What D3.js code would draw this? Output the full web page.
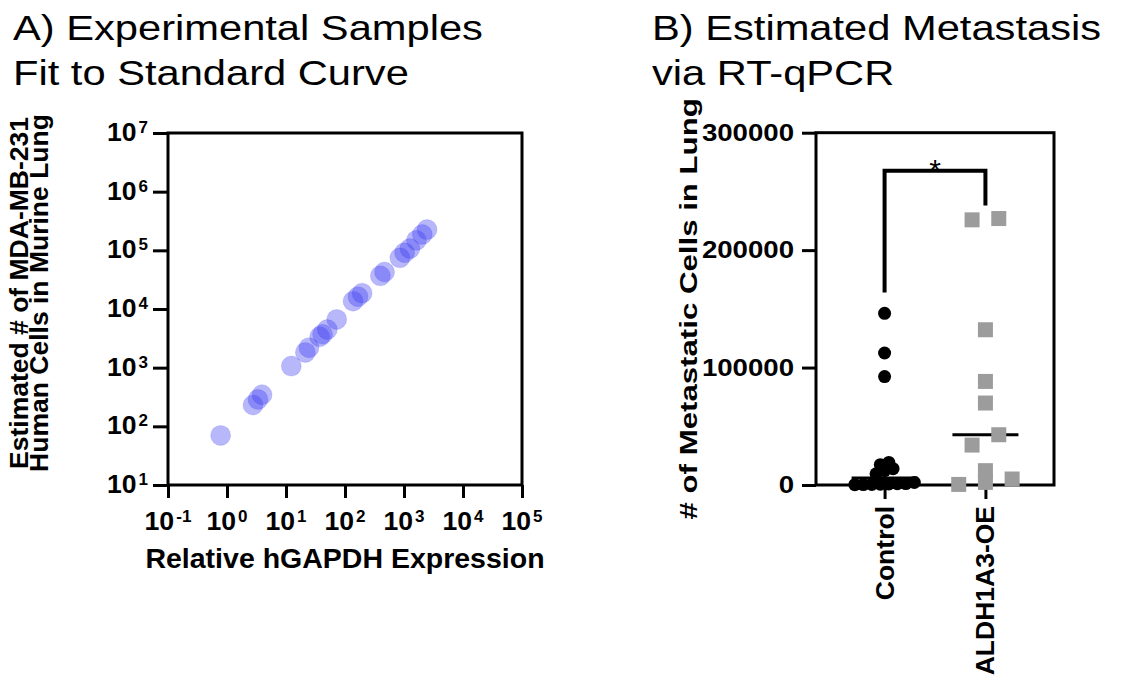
<!DOCTYPE html>
<html>
<head>
<meta charset="utf-8">
<script src="https://cdn.jsdelivr.net/npm/d3@7"></script>
<style>
  body { margin: 0; background: #fff; }
  text { font-family: "Liberation Sans", Arial, sans-serif; fill: #000; }
</style>
</head>
<body>
<svg id="chart"></svg>
<script>
// Panel A: relative hGAPDH expression vs estimated cell count
const expression = [0.78, 2.76, 3.35, 3.92, 12.3, 21.3, 24.5, 37.2, 41.7, 50.1, 72.4,
  137, 166, 195, 398, 468, 851, 1023, 1259, 1622, 2042, 2455];
const estimatedCells = [70, 231, 288, 346, 1064, 1820, 2190, 3365, 3715, 4467, 6637,
  13610, 16220, 18620, 36730, 42660, 74470, 91200, 107200, 147900, 186200, 225900];
const xExponents = [-1, 0, 1, 2, 3, 4, 5];
const yExponents = [1, 2, 3, 4, 5, 6, 7];

// Panel B: metastatic cells per group
const groups = ["Control", "ALDH1A3-OE"];
const controlCells = [146200, 112400, 92300, 19200, 17300, 13900, 12200, 9600,
  2200, 1200, 1100, 900, 700, 500, 400, 300];
const aldhCells = [226900, 225800, 132200, 88200, 69800, 42800, 34000, 12200, 5100, 2200, 500];
const yTicksB = [0, 100000, 200000, 300000];
const bracketLevels = [164000, 267500, 238000]; // left leg foot, bar, right leg foot

const width = 1138;
const height = 679;

const svg = d3.select("#chart").attr("width", width).attr("height", height);
svg.append("rect").attr("width", width).attr("height", height).attr("fill", "#fff");

// widen glyphs along the text direction to the proportions of the reference
const stretch = (sel, k) => sel.each(function () {
  const len = this.getComputedTextLength();
  d3.select(this).attr("textLength", len * k).attr("lengthAdjust", "spacingAndGlyphs");
});

const styleAxis = (g) => {
  g.select(".domain").remove();
  g.selectAll(".tick line").attr("stroke", "#000").attr("stroke-width", 3);
};

const power = (sel) => sel.each(function (e) {
  const t = d3.select(this);
  t.append("tspan").text("10");
  t.append("tspan").attr("dx", 2).attr("dy", -8).attr("font-size", 16).text(e);
});

// titles
const titles = [
  { x: 13, lines: ["A) Experimental Samples", "Fit to Standard Curve"] },
  { x: 652, lines: ["B) Estimated Metastasis", "via RT-qPCR"] }
];
titles.forEach((t) => {
  svg.selectAll(null)
    .data(t.lines)
    .enter()
    .append("text")
    .attr("x", t.x)
    .attr("y", (d, i) => 40 + i * 45)
    .attr("font-size", 35)
    .text((d) => d)
    .call(stretch, 1.19);
});

// ---------- Panel A ----------
const a = { left: 168, right: 522, top: 133, bottom: 485 };
const x = d3.scaleLog().domain([0.1, 1e5]).range([a.left, a.right]);
const y = d3.scaleLog().domain([10, 1e7]).range([a.bottom, a.top]);

const gA = svg.append("g");

gA.append("g")
  .attr("transform", `translate(0,${a.bottom})`)
  .call(d3.axisBottom(x).tickValues(xExponents.map((e) => 10 ** e)).tickSize(13).tickSizeOuter(0).tickFormat(""))
  .call(styleAxis);

gA.append("g")
  .attr("transform", `translate(${a.left},0)`)
  .call(d3.axisLeft(y).tickValues(yExponents.map((e) => 10 ** e)).tickSize(15).tickSizeOuter(0).tickFormat(""))
  .call(styleAxis);

gA.append("rect")
  .attr("x", a.left)
  .attr("y", a.top)
  .attr("width", a.right - a.left)
  .attr("height", a.bottom - a.top)
  .attr("fill", "none")
  .attr("stroke", "#000")
  .attr("stroke-width", 3);

gA.selectAll(".xlab")
  .data(xExponents)
  .enter()
  .append("text")
  .attr("x", (e) => x(10 ** e))
  .attr("y", 530)
  .attr("text-anchor", "middle")
  .attr("font-size", 25)
  .attr("font-weight", "bold")
  .call(power)
  .call(stretch, 1.12);

gA.selectAll(".ylab")
  .data(yExponents)
  .enter()
  .append("text")
  .attr("x", 148)
  .attr("y", (e) => y(10 ** e) + 8)
  .attr("text-anchor", "end")
  .attr("font-size", 25)
  .attr("font-weight", "bold")
  .call(power)
  .call(stretch, 1.12);

gA.append("text")
  .attr("x", (a.left + a.right) / 2)
  .attr("y", 568)
  .attr("text-anchor", "middle")
  .attr("font-size", 28.5)
  .attr("font-weight", "bold")
  .text("Relative hGAPDH Expression");

gA.selectAll(".ytitle")
  .data(["Estimated # of MDA-MB-231", "Human Cells in Murine Lung"])
  .enter()
  .append("text")
  .attr("transform", (d, i) => `translate(${28 + i * 20},293) rotate(-90)`)
  .attr("text-anchor", "middle")
  .attr("font-size", 26.5)
  .attr("font-weight", "bold")
  .text((d) => d);

gA.selectAll("circle")
  .data(expression.map((v, i) => [v, estimatedCells[i]]))
  .enter()
  .append("circle")
  .attr("cx", (d) => x(d[0]))
  .attr("cy", (d) => y(d[1]))
  .attr("r", 10)
  .attr("fill", "#3b3bf2")
  .attr("fill-opacity", 0.37)
  .attr("stroke", "#3b3bf2")
  .attr("stroke-opacity", 0.15);

// ---------- Panel B ----------
const b = { left: 816, right: 1054, top: 132.7, bottom: 485 };
const xB = d3.scalePoint().domain(groups).range([b.left, b.right]).padding(0.68);
const yB = d3.scaleLinear().domain([0, 300000]).range([b.bottom, b.top]);

const gB = svg.append("g");

gB.append("g")
  .attr("transform", `translate(${b.left},0)`)
  .call(d3.axisLeft(yB).tickValues(yTicksB).tickSize(14).tickSizeOuter(0).tickPadding(8).tickFormat(d3.format("d")))
  .call(styleAxis)
  .call((g) => g.selectAll("text")
    .attr("font-size", 24)
    .attr("font-weight", "bold")
    .attr("font-family", "Liberation Sans, Arial, sans-serif")
    .attr("fill", "#000")
    .call(stretch, 1.15));

gB.append("g")
  .attr("transform", `translate(0,${b.bottom})`)
  .call(d3.axisBottom(xB).tickSize(14).tickSizeOuter(0).tickFormat(""))
  .call(styleAxis);

gB.append("rect")
  .attr("x", b.left)
  .attr("y", b.top)
  .attr("width", b.right - b.left)
  .attr("height", b.bottom - b.top)
  .attr("fill", "none")
  .attr("stroke", "#000")
  .attr("stroke-width", 3);

gB.selectAll(".cat")
  .data(groups)
  .enter()
  .append("text")
  .attr("transform", (d) => `translate(${xB(d) + 9},506) rotate(-90)`)
  .attr("text-anchor", "end")
  .attr("font-size", 26.5)
  .attr("font-weight", "bold")
  .text((d) => d);

gB.append("text")
  .attr("transform", `translate(697,${(b.top + b.bottom) / 2}) rotate(-90)`)
  .attr("text-anchor", "middle")
  .attr("font-size", 24)
  .attr("font-weight", "bold")
  .text("# of Metastatic Cells in Lung")
  .call(stretch, 1.3);

// rows of near-equal values spread side by side, like a column scatter
const swarm = (values, step, gap) => {
  const sorted = values.slice().sort((p, q) => p - q);
  const rows = [];
  sorted.forEach((v) => {
    const row = rows[rows.length - 1];
    if (row && Math.abs(yB(row[0]) - yB(v)) < gap) row.push(v);
    else rows.push([v]);
  });
  return rows.flatMap((row) => row.map((v, j) => ({ v, dx: (j - (row.length - 1) / 2) * step })));
};

const medians = [d3.median(controlCells), d3.median(aldhCells)];
gB.selectAll(".median")
  .data(medians)
  .enter()
  .append("line")
  .attr("x1", (d, i) => xB(groups[i]) - 33)
  .attr("x2", (d, i) => xB(groups[i]) + 33)
  .attr("y1", (d) => yB(d))
  .attr("y2", (d) => yB(d))
  .attr("stroke", "#000")
  .attr("stroke-width", 3);

gB.selectAll(".ctrl")
  .data(swarm(controlCells, 8.5, 8))
  .enter()
  .append("circle")
  .attr("cx", (d) => xB(groups[0]) + d.dx)
  .attr("cy", (d) => yB(d.v))
  .attr("r", 6.5)
  .attr("fill", "#000");

gB.selectAll(".aldh")
  .data(swarm(aldhCells, 26.7, 12))
  .enter()
  .append("rect")
  .attr("x", (d) => xB(groups[1]) + d.dx - 7.5)
  .attr("y", (d) => yB(d.v) - 7.5)
  .attr("width", 15)
  .attr("height", 15)
  .attr("fill", "#9c9c9c");

// significance bracket
const [footL, bar, footR] = bracketLevels;
gB.append("path")
  .attr("d", d3.line()([
    [xB(groups[0]), yB(footL)],
    [xB(groups[0]), yB(bar)],
    [xB(groups[1]), yB(bar)],
    [xB(groups[1]), yB(footR)]
  ]))
  .attr("fill", "none")
  .attr("stroke", "#000")
  .attr("stroke-width", 4);

gB.append("text")
  .attr("x", (xB(groups[0]) + xB(groups[1])) / 2)
  .attr("y", yB(bar) + 9)
  .attr("text-anchor", "middle")
  .attr("font-size", 30)
  .text("*");
</script>
</body>
</html>
